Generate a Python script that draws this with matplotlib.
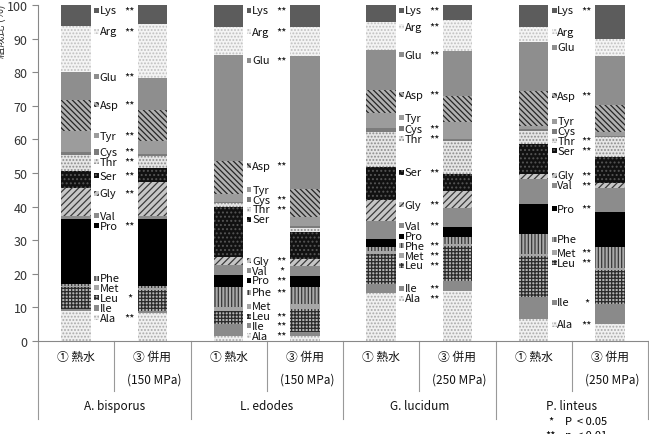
import numpy as np
import matplotlib
matplotlib.use("Agg")
import matplotlib.pyplot as plt
from matplotlib.patches import Rectangle

plt.rcParams['font.family'] = ['Noto Sans CJK JP', 'DejaVu Sans']
plt.rcParams['hatch.linewidth'] = 0.9

# amino acids, stacked from the bottom
amino = ['Ala', 'Ile', 'Leu', 'Met', 'Phe', 'Pro', 'Val', 'Gly',
         'Ser', 'Thr', 'Cys', 'Tyr', 'Asp', 'Glu', 'Arg', 'Lys']
species = ['A. bisporus', 'L. edodes', 'G. lucidum', 'P. linteus']
treatments = ['① 熱水', '③ 併用']
pressures = ['(150 MPa)', '(150 MPa)', '(250 MPa)', '(250 MPa)']

# composition (%), same order as amino
bisporus_hot = [9.0, 0.5, 6.5, 0.5, 0.5, 19.3, 1.0, 8.2, 5.2, 4.6, 1.0, 6.3, 9.2, 8.3, 13.6, 6.3]
bisporus_mix = [8.3, 0.5, 6.5, 0.5, 0.5, 20.0, 1.0, 9.9, 4.3, 3.5, 0.7, 3.9, 9.2, 9.4, 16.0, 5.8]
edodes_hot = [1.6, 3.4, 4.0, 1.2, 5.8, 3.6, 2.9, 2.4, 14.9, 1.2, 0.4, 2.4, 9.9, 31.4, 8.5, 6.4]
edodes_mix = [1.6, 1.0, 6.9, 1.5, 5.0, 3.4, 2.8, 2.2, 8.0, 1.2, 0.7, 2.5, 8.4, 39.5, 8.9, 6.4]
lucidum_hot = [14.3, 2.7, 9.0, 0.9, 1.0, 2.5, 5.4, 6.3, 9.6, 10.4, 1.4, 4.4, 6.9, 11.9, 8.3, 5.0]
lucidum_mix = [15.0, 2.9, 10.5, 0.5, 2.0, 2.9, 5.8, 5.1, 5.0, 9.9, 0.5, 5.2, 7.5, 13.6, 9.2, 4.4]
linteus_hot = [6.5, 6.5, 12.4, 0.5, 5.9, 9.0, 7.4, 1.5, 8.9, 3.8, 0.6, 0.9, 10.6, 14.4, 4.7, 6.4]
linteus_mix = [5.1, 5.9, 10.2, 0.5, 6.2, 10.4, 7.1, 1.6, 7.7, 5.9, 0.5, 1.0, 8.1, 14.7, 5.0, 10.1]

# significance marks, same order as amino
bisporus_sig = ['**', '', '*', '', '', '**', '', '**', '**', '**', '**', '**', '**', '**', '**', '**']
edodes_sig = ['**', '**', '**', '', '**', '**', '*', '**', '', '**', '**', '', '**', '**', '**', '**']
lucidum_sig = ['**', '**', '**', '**', '**', '', '**', '**', '**', '**', '**', '', '**', '**', '**', '**']
linteus_sig = ['**', '*', '**', '**', '', '**', '**', '**', '**', '**', '', '', '**', '', '', '**']

bars = [bisporus_hot, bisporus_mix, edodes_hot, edodes_mix,
        lucidum_hot, lucidum_mix, linteus_hot, linteus_mix]
sigs = [bisporus_sig, edodes_sig, lucidum_sig, linteus_sig]

# facecolor, hatch, hatch colour
styles = {
    'Ala': ('#f0f0f0', '.....', '#aaaaaa'),
    'Ile': ('#8a8a8a', None, '#8a8a8a'),
    'Leu': ('#b4b4b4', '+++++', '#2a2a2a'),
    'Met': ('#a6a6a6', None, '#a6a6a6'),
    'Phe': ('#aaaaaa', '|||||', '#383838'),
    'Pro': ('#000000', None, '#000000'),
    'Val': ('#8c8c8c', None, '#8c8c8c'),
    'Gly': ('#c6c6c6', '/////', '#3a3a3a'),
    'Ser': ('#111111', '....', '#555555'),
    'Thr': ('#e6e6e6', '.....', '#8c8c8c'),
    'Cys': ('#7c7c7c', None, '#7c7c7c'),
    'Tyr': ('#9c9c9c', None, '#9c9c9c'),
    'Asp': ('#b0b0b0', '\\\\\\\\\\\\', '#262626'),
    'Glu': ('#8e8e8e', None, '#8e8e8e'),
    'Arg': ('#f4f4f4', '.....', '#c0c0c0'),
    'Lys': ('#5c5c5c', None, '#5c5c5c'),
}


def place_labels(tops, sizes, gap=2.9):
    y = np.array([t - min(s / 2, 1.5) for t, s in zip(tops, sizes)])
    for _ in range(400):
        for k in range(len(y) - 1):
            d = y[k + 1] - y[k]
            if d < gap:
                shift = (gap - d) / 2
                y[k] -= shift
                y[k + 1] += shift
        y = np.clip(y, 1.6, 98.4)
    return y


fig = plt.figure(figsize=(6.49, 4.35), dpi=100)
ax = fig.add_axes([38 / 649, 93 / 435, 610 / 649, 336 / 435])

width = 0.39
for i, vals in enumerate(bars):
    bottom = 0.0
    for name, v in zip(amino, vals):
        fc, h, hc = styles[name]
        ax.bar(i, v, width, bottom=bottom, color=fc, hatch=h,
               edgecolor=hc, linewidth=0)
        bottom += v

# labels between the two bars of each species
for g in range(4):
    vals = np.array(bars[2 * g])
    tops = np.cumsum(vals)
    ys = place_labels(tops, vals)
    xc = 2 * g
    for name, y, s in zip(amino, ys, sigs[g]):
        fc, h, hc = styles[name]
        ax.add_patch(Rectangle((xc + 0.235, y - 0.75), 0.065, 1.5,
                               facecolor=fc, hatch=h, edgecolor=hc,
                               linewidth=0))
        ax.text(xc + 0.31, y, name, ha='left', va='center',
                fontsize=8, color='#111111')
        if s:
            ax.text(xc + 0.70, y, s, ha='center', va='center',
                    fontsize=8, color='#111111')

ax.set_xlim(-0.5, 7.5)
ax.set_ylim(0, 100)
ax.set_yticks(np.arange(0, 101, 10))
ax.set_xticks([])
ax.tick_params(axis='y', labelsize=9, colors='#333333', length=4,
               width=0.8, color='#888888')
for side in ['top', 'right']:
    ax.spines[side].set_visible(False)
ax.spines['left'].set_color('#888888')
ax.spines['bottom'].set_color('#888888')
ax.spines['left'].set_linewidth(0.8)
ax.spines['bottom'].set_linewidth(0.8)

# category table below the axis
trans = ax.get_xaxis_transform()
for x in [-0.5, 1.5, 3.5, 5.5, 7.5]:
    ax.plot([x, x], [0, -0.232], transform=trans, color='#999999',
            lw=0.8, clip_on=False)
for x in [0.5, 2.5, 4.5, 6.5]:
    ax.plot([x, x], [0, -0.149], transform=trans, color='#999999',
            lw=0.8, clip_on=False)
for g in range(4):
    ax.text(2 * g, -0.045, treatments[0], transform=trans, ha='center',
            va='center', fontsize=8.5, color='#111111')
    ax.text(2 * g + 1, -0.045, treatments[1], transform=trans, ha='center',
            va='center', fontsize=8.5, color='#111111')
    ax.text(2 * g + 1.03, -0.113, pressures[g], transform=trans, ha='center',
            va='center', fontsize=8.5, color='#111111')
    ax.text(2 * g + 0.5, -0.193, species[g], transform=trans, ha='center',
            va='center', fontsize=8.5, color='#111111')

# y label, mostly outside the picture
fig.text(0.0, 0.99, '組成比 (%)', rotation=90, ha='center', va='top',
         fontsize=8, color='#333333')

# footnote
fig.text(551 / 649, 1 - 422 / 435, '*', ha='center', va='center', fontsize=8)
fig.text(565 / 649, 1 - 422 / 435, 'P', ha='left', va='center', fontsize=8,
         style='italic')
fig.text(577 / 649, 1 - 422 / 435, '< 0.05', ha='left', va='center', fontsize=8)
fig.text(551 / 649, 1 - 436 / 435, '**', ha='center', va='center', fontsize=8)
fig.text(565 / 649, 1 - 436 / 435, 'p', ha='left', va='center', fontsize=8,
         style='italic')
fig.text(577 / 649, 1 - 436 / 435, '< 0.01', ha='left', va='center', fontsize=8)

fig.savefig('out.png', dpi=100)
